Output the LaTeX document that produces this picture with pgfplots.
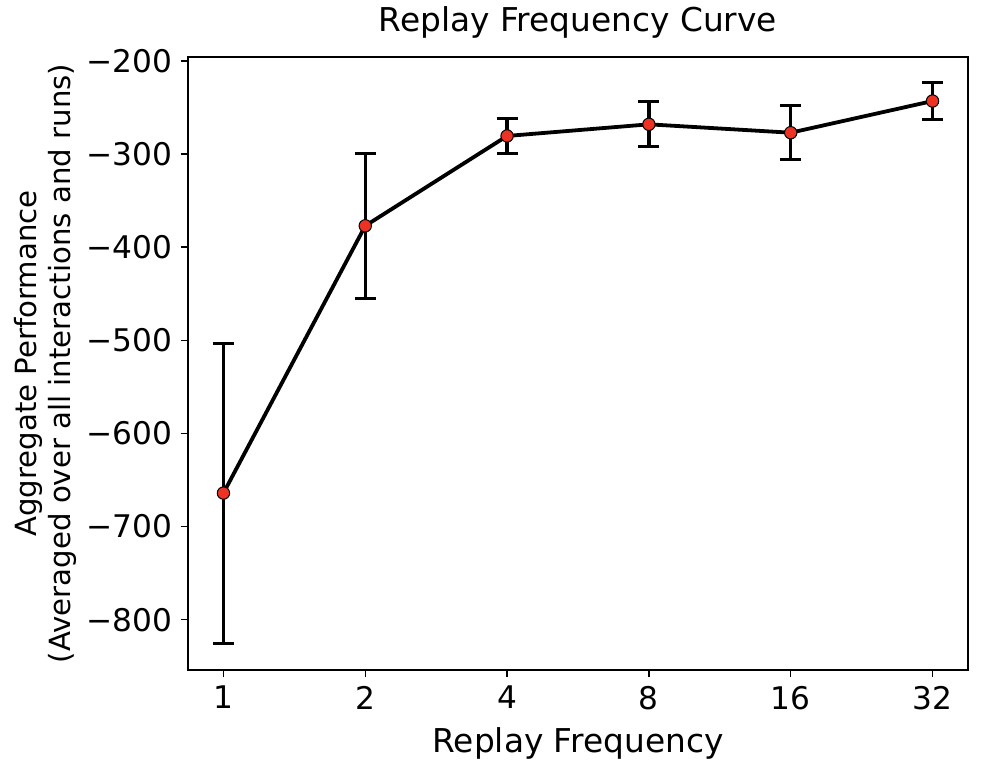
\documentclass[border=0pt]{standalone}
\usepackage{fontspec}
\setmainfont{DejaVu Sans}
\usepackage{pgfplots}
\pgfplotsset{compat=1.18}
\usepackage{pgfplotstable}
\definecolor{ptred}{RGB}{235,50,35}

\pgfplotstableread{
x    y      err
0   -664    161
1   -377    78
2   -280.5  18.5
3   -268    24
4   -277    29
5   -243    19.5
}\replaydata

\begin{document}
\begin{tikzpicture}
\path[use as bounding box] (-94pt,-51pt) rectangle (403pt,335pt);
\begin{axis}[
    at={(0,0)}, anchor=south west,
    scale only axis,
    width=390pt, height=306.5pt,
    xmin=-0.25, xmax=5.25,
    ymin=-854, ymax=-195.7,
    xtick={0,1,2,3,4,5},
    xticklabels={1,2,4,8,16,32},
    ytick={-800,-700,-600,-500,-400,-300,-200},
    yticklabels={−800,−700,−600,−500,−400,−300,−200},
    tick align=outside,
    major tick length=3.5pt,
    every tick/.style={black, line width=0.75pt},
    axis line style={line width=0.75pt},
    xtick pos=bottom, ytick pos=left,
    tick label style={font=\fontsize{15.6}{18}\selectfont},
    x tick label style={yshift=-1pt},
    y tick label style={xshift=-1pt},
    title={Replay Frequency Curve},
    title style={font=\fontsize{16.4}{19}\selectfont, at={(axis description cs:0.5,1)}, anchor=base, inner sep=0pt, yshift=7pt},
    xlabel={Replay Frequency},
    xlabel style={font=\fontsize{16.4}{19}\selectfont, at={(axis description cs:0.5,0)}, anchor=base, inner sep=0pt, yshift=-41.3pt},
    ylabel={Aggregate Performance\\(Averaged over all interactions and runs)},
    ylabel style={font=\fontsize{14.6}{17}\selectfont, align=center, at={(axis description cs:-0.223,0.5)}, anchor=north, inner sep=0pt},
]
\addplot[
    black, line width=1.9pt,
    mark=*, mark size=3.1pt,
    mark options={fill=ptred, draw=black, line width=0.5pt},
    error bars/.cd,
        y dir=both, y explicit,
        error bar style={line width=1.7pt, black},
        error mark options={rotate=90, mark size=5.25pt, line width=1.5pt, black},
] table[x=x, y=y, y error=err] {\replaydata};
\end{axis}
\end{tikzpicture}
\end{document}
